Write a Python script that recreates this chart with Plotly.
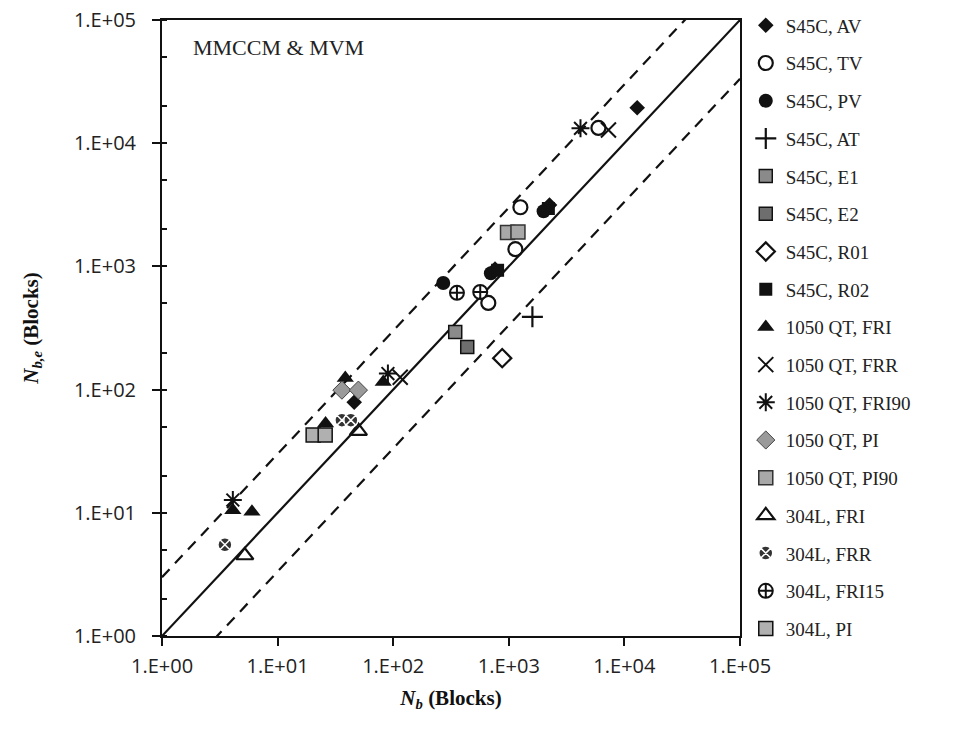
import plotly.graph_objects as go

# ---------------- data ----------------
series_names = ["S45C, AV", "S45C, TV", "S45C, PV", "S45C, AT", "S45C, E1", "S45C, E2",
                "S45C, R01", "S45C, R02", "1050 QT, FRI", "1050 QT, FRR", "1050 QT, FRI90",
                "1050 QT, PI", "1050 QT, PI90", "304L, FRI", "304L, FRR", "304L, FRI15", "304L, PI"]

s45c_av_nb = [12900, 2250, 760, 46]
s45c_av_nbe = [19400, 3150, 950, 79]
s45c_tv_nb = [5960, 1260, 1140, 665]
s45c_tv_nbe = [13300, 3020, 1380, 505]
s45c_pv_nb = [271, 700, 2000]
s45c_pv_nbe = [733, 880, 2800]
s45c_at_nb = [1600]
s45c_at_nbe = [390]
s45c_e1_nb = [344]
s45c_e1_nbe = [294]
s45c_e2_nb = [437]
s45c_e2_nbe = [222]
s45c_r01_nb = [877]
s45c_r01_nbe = [180]
s45c_r02_nb = [800, 2200]
s45c_r02_nbe = [930, 2950]
qt_fri_nb = [38.5, 82, 4.1, 6.0, 26]
qt_fri_nbe = [124, 115, 10.5, 10.2, 53]
qt_frr_nb = [115, 7280]
qt_frr_nbe = [126, 12800]
qt_fri90_nb = [4170, 4.1, 90]
qt_fri90_nbe = [13200, 12.7, 135]
qt_pi_nb = [36, 50]
qt_pi_nbe = [99, 99]
qt_pi90_nb = [975, 1200]
qt_pi90_nbe = [1880, 1900]
l304_fri_nb = [50, 5.2]
l304_fri_nbe = [46, 4.5]
l304_frr_nb = [36, 43, 3.5]
l304_frr_nbe = [56.5, 56.5, 5.5]
l304_fri15_nb = [356, 566]
l304_fri15_nbe = [610, 620]
l304_pi_nb = [20.3, 25.8]
l304_pi_nbe = [42.8, 42.8]

tick_vals = [1, 10, 100, 1000, 10000, 100000]
tick_text = ["1.E+00", "1.E+01", "1.E+02", "1.E+03", "1.E+04", "1.E+05"]

band_factors = [1, 3, 1 / 3]
line_ends = [1, 100000]

# ---------------- styles ----------------
BLACK = "#111111"
styles = [
    dict(symbol="diamond", size=12, color=BLACK, line=dict(width=0)),
    dict(symbol="circle-open", size=14, color=BLACK, line=dict(width=2.2, color=BLACK)),
    dict(symbol="circle", size=14, color=BLACK, line=dict(width=0)),
    dict(symbol="cross-thin-open", size=15, color=BLACK, line=dict(width=2.2, color=BLACK)),
    dict(symbol="square", size=13, color="#8a8a8a", line=dict(width=1.5, color=BLACK)),
    dict(symbol="square", size=13, color="#6e6e6e", line=dict(width=1.5, color=BLACK)),
    dict(symbol="diamond-open", size=14, color=BLACK, line=dict(width=2.2, color=BLACK)),
    dict(symbol="square", size=13, color=BLACK, line=dict(width=0)),
    dict(symbol="triangle-up", size=15, color=BLACK, line=dict(width=0)),
    dict(symbol="x-thin-open", size=15, color=BLACK, line=dict(width=2, color=BLACK)),
    dict(symbol="asterisk-open", size=15, color=BLACK, line=dict(width=2, color=BLACK)),
    dict(symbol="diamond", size=14, color="#9a9a9a", line=dict(width=1, color="#444444")),
    dict(symbol="square", size=14, color="#a8a8a8", line=dict(width=1.5, color="#333333")),
    dict(symbol="triangle-up-open", size=15, color=BLACK, line=dict(width=2.2, color=BLACK)),
    dict(symbol="circle-x", size=14, color="#333333", line=dict(width=1.5, color="#ffffff")),
    dict(symbol="circle-cross", size=14, color="#ffffff", line=dict(width=2, color=BLACK)),
    dict(symbol="square", size=14, color="#b0b0b0", line=dict(width=1.5, color=BLACK)),
]

series_data = [
    (s45c_av_nb, s45c_av_nbe), (s45c_tv_nb, s45c_tv_nbe), (s45c_pv_nb, s45c_pv_nbe),
    (s45c_at_nb, s45c_at_nbe), (s45c_e1_nb, s45c_e1_nbe), (s45c_e2_nb, s45c_e2_nbe),
    (s45c_r01_nb, s45c_r01_nbe), (s45c_r02_nb, s45c_r02_nbe), (qt_fri_nb, qt_fri_nbe),
    (qt_frr_nb, qt_frr_nbe), (qt_fri90_nb, qt_fri90_nbe), (qt_pi_nb, qt_pi_nbe),
    (qt_pi90_nb, qt_pi90_nbe), (l304_fri_nb, l304_fri_nbe), (l304_frr_nb, l304_frr_nbe),
    (l304_fri15_nb, l304_fri15_nbe), (l304_pi_nb, l304_pi_nbe),
]

fig = go.Figure()

# reference lines
for f in band_factors:
    fig.add_trace(go.Scatter(
        x=line_ends, y=[v * f for v in line_ends], mode="lines",
        line=dict(color=BLACK, width=2.2, dash="solid" if f == 1 else "11px,8px"),
        showlegend=False, hoverinfo="skip"))

for i, (name, (xs, ys)) in enumerate(zip(series_names, series_data)):
    st = styles[i]
    fig.add_trace(go.Scatter(
        x=xs, y=ys, mode="markers", name=name, legendgroup=f"g{i}",
        marker=dict(symbol=st["symbol"], size=st["size"], color=st["color"], line=st["line"])))

axis_common = dict(
    type="log", range=[0, 5], tickvals=tick_vals, ticktext=tick_text,
    showgrid=False, zeroline=False, showline=True, linecolor=BLACK, linewidth=2,
    mirror=True, ticks="outside", ticklen=8, tickwidth=2, tickcolor=BLACK,
    tickfont=dict(family="Open Sans", size=20, color="#222222"),
)

fig.update_layout(
    width=962, height=738,
    margin=dict(l=162, r=222, t=20, b=102, autoexpand=False),
    paper_bgcolor="white", plot_bgcolor="white",
    xaxis=dict(**axis_common, ticklabelstandoff=3,
               title=dict(text="<b><i>N</i><sub><i>b</i></sub> (Blocks)</b>",
                          font=dict(family="Liberation Serif", size=21, color=BLACK), standoff=12)),
    yaxis=dict(**axis_common, ticklabelstandoff=12,
               minor=dict(ticks="inside", ticklen=5, tickwidth=1.5, tickcolor=BLACK, showgrid=False),
               title=dict(text="<b><i>N</i><sub><i>b,e</i></sub> (Blocks)</b>",
                          font=dict(family="Liberation Serif", size=21, color=BLACK), standoff=30)),
    legend=dict(x=1.01, y=1.022, xanchor="left", yanchor="top",
                font=dict(family="Liberation Serif", size=19, color="#222222"),
                tracegroupgap=10, itemwidth=30, bgcolor="rgba(0,0,0,0)", maxheight=1000),
    annotations=[dict(text="MMCCM &amp; MVM", xref="paper", yref="paper", x=0.05, y=0.955,
                      xanchor="left", yanchor="middle", showarrow=False,
                      font=dict(family="Liberation Serif", size=22, color="#222222"))],
)

fig.write_html("out.html")
